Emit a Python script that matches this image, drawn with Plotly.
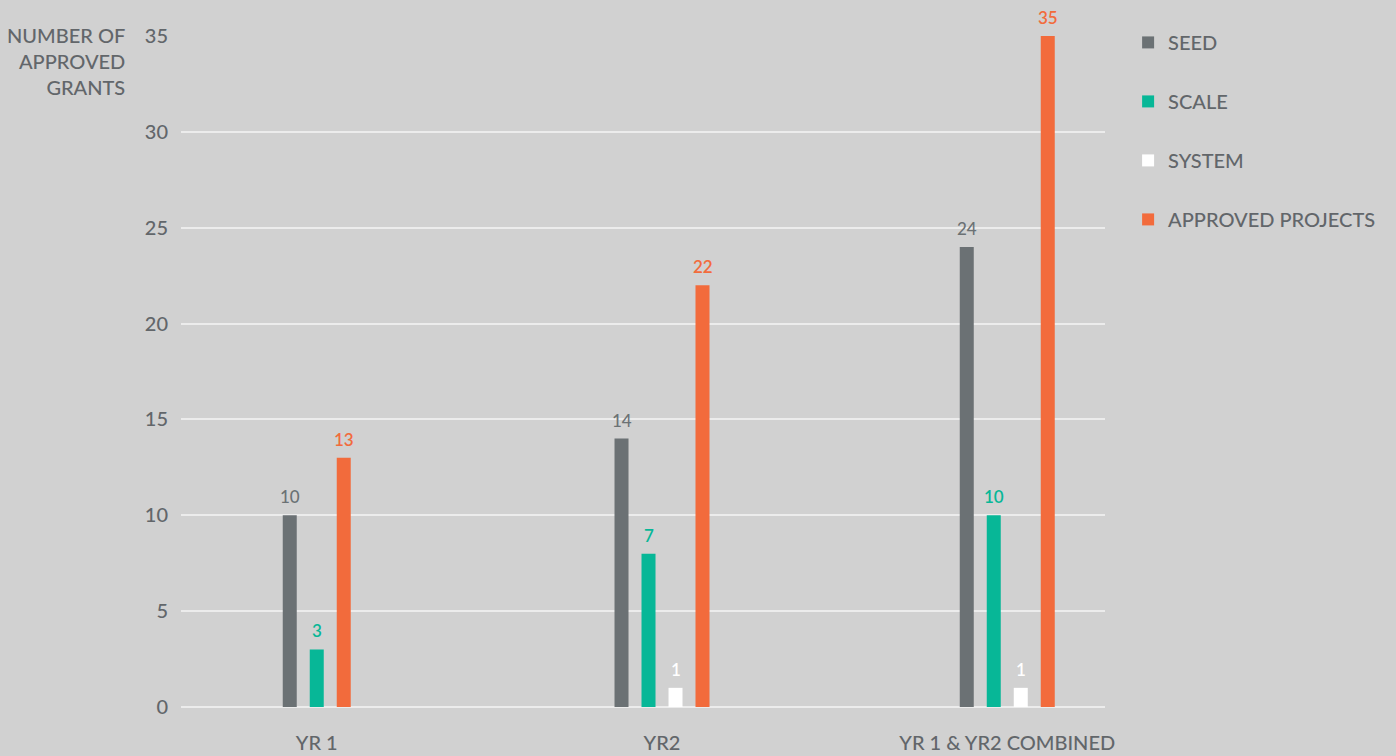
import plotly.graph_objects as go

# ---- data ----
categories = ["YR 1", "YR2", "YR 1 & YR2 COMBINED"]
series_names = ["SEED", "SCALE", "SYSTEM", "APPROVED PROJECTS"]
seed = [10, 14, 24]
scale = [3, 8, 10]
scale_labels = ["3", "7", "10"]
system = [None, 1, 1]
approved = [13, 22, 35]
y_ticks = [0, 5, 10, 15, 20, 25, 30, 35]

values = [seed, scale, system, approved]
labels = [
    [str(v) for v in seed],
    scale_labels,
    ["" if v is None else str(v) for v in system],
    [str(v) for v in approved],
]

colors = ["#6b7174", "#07b797", "#ffffff", "#f26b3c"]
label_colors = ["#6b7174", "#07b797", "#ffffff", "#f26b3c"]
label_weights = [500, 600, 600, 600]
text_grey = "#62666a"
FONT = "Lato"
W = 500

slot = 0.0782
bar_w = 0.04055

# bar centres: bars packed within each category, skipping missing series
centers = [[None] * len(categories) for _ in series_names]
for i in range(len(categories)):
    present = [s for s in range(len(series_names)) if values[s][i] is not None]
    n = len(present)
    for k, s in enumerate(present):
        centers[s][i] = (k - (n - 1) / 2) * slot

fig = go.Figure()
annotations = []
for s, name in enumerate(series_names):
    offs = [(c - bar_w / 2) if c is not None else 0 for c in centers[s]]
    fig.add_trace(go.Bar(
        x=categories,
        y=values[s],
        name=name,
        marker=dict(color=colors[s], line=dict(width=0)),
        width=bar_w,
        offset=offs,
        legendgroup=name,
        hoverinfo="skip",
    ))
    for i, v in enumerate(values[s]):
        if v is None:
            continue
        annotations.append(dict(
            x=i + centers[s][i], y=v, xref="x", yref="y",
            text=labels[s][i], showarrow=False,
            xanchor="center", yanchor="bottom", yshift=6,
            font=dict(family=FONT, size=17, color=label_colors[s], weight=label_weights[s]),
        ))

annotations.append(dict(
    text="NUMBER OF<br>APPROVED<br>GRANTS",
    xref="paper", yref="paper",
    x=-0.0585, y=1.022,
    xanchor="right", yanchor="top",
    align="right",
    showarrow=False,
    font=dict(family=FONT, size=20, color=text_grey, weight=W),
))

fig.update_layout(
    width=1396,
    height=756,
    barmode="overlay",
    paper_bgcolor="#d1d1d1",
    plot_bgcolor="#d1d1d1",
    margin=dict(l=181, r=291, t=36, b=49, autoexpand=False),
    font=dict(family=FONT, color=text_grey, size=20, weight=W),
    showlegend=True,
    legend=dict(
        x=1.025, xanchor="left",
        y=1.0195, yanchor="top",
        font=dict(family=FONT, size=20, color=text_grey, weight=W),
        tracegroupgap=30,
        bgcolor="rgba(0,0,0,0)",
        itemclick=False,
        itemdoubleclick=False,
    ),
    xaxis=dict(
        type="category",
        range=[-0.3932, 2.2831],
        automargin=False,
        showgrid=False,
        zeroline=False,
        showline=False,
        ticks="",
        ticklabelstandoff=22,
        tickfont=dict(family=FONT, size=20, color=text_grey, weight=W),
    ),
    yaxis=dict(
        range=[0, 35],
        tickvals=y_ticks,
        automargin=False,
        showgrid=True,
        gridcolor="#ececec",
        gridwidth=1.5,
        zeroline=True,
        zerolinecolor="#ececec",
        zerolinewidth=1.5,
        showline=False,
        ticks="",
        ticklabelstandoff=12,
        tickfont=dict(family=FONT, size=20, color=text_grey, weight=W),
    ),
    annotations=annotations,
)

fig.write_html(
    "out.html",
    config={"displayModeBar": False},
    post_script="document.body.style.margin='0';document.body.style.background='#d1d1d1';",
)
